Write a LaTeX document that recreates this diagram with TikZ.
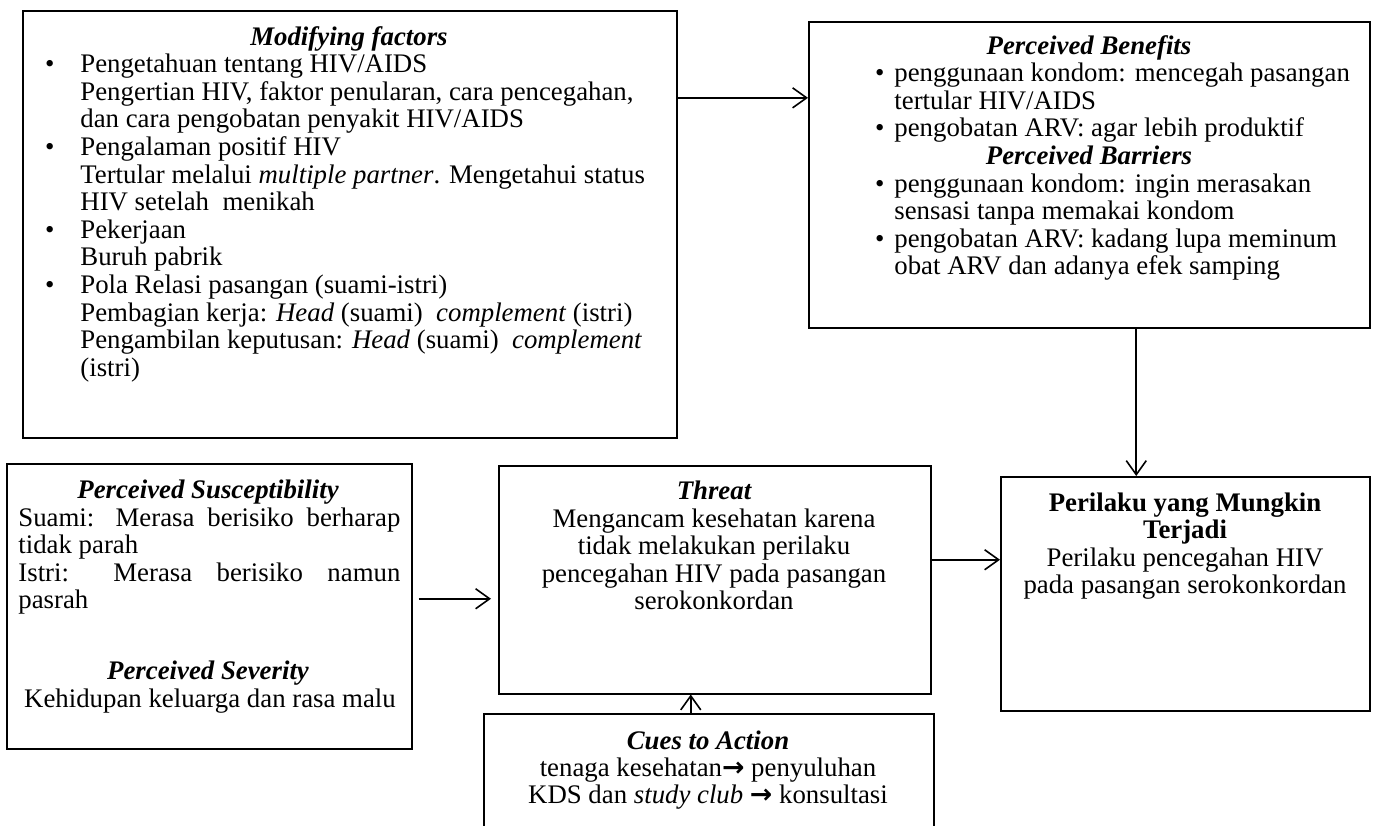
\documentclass[tikz,border=0pt]{standalone}
\usepackage{fontspec}
\setmainfont{Liberation Serif}
\newfontfamily\arrowfont{DejaVu Sans}
\usetikzlibrary{arrows.meta,calc}
\newcommand{\bul}[1]{\llap{\textbullet\hspace{#1}}}
\newcommand{\rarr}{{\arrowfont\bfseries →}}

\begin{document}
\begin{tikzpicture}[x=0.5pt, y=-0.5pt,
    box/.style={draw, line width=0.75pt, inner sep=0pt, anchor=north west},
    txt/.style={inner sep=0pt, font=\fontsize{13.4pt}{13.8pt}\selectfont},
    ttl/.style={txt, anchor=base, font=\fontsize{13.4pt}{13.8pt}\selectfont\bfseries\itshape},
    arr/.style={-{Straight Barb[length=7pt, width=10pt]}, line width=0.8pt}]
    \useasboundingbox (0,0) rectangle (1380,825);

    % Boxes
    \node[box, minimum width=327pt, minimum height=213.5pt] (mod) at (22,10) {};
    \node[box, minimum width=280.5pt, minimum height=153pt] (ben) at (808,21) {};
    \node[box, minimum width=202.5pt, minimum height=142.5pt] (sus) at (6,463) {};
    \node[box, minimum width=216pt, minimum height=114pt] (thr) at (498,465) {};
    \node[box, minimum width=184.5pt, minimum height=117pt] (per) at (1000,476) {};
    \node[box, minimum width=225pt, minimum height=58.5pt] (cue) at (483,713) {};

    % Modifying factors (multi-line texts sit on their last baseline)
    \node[ttl] (modttl) at (349,45) {Modifying factors};
    \node[txt, anchor=base west, align=left] (modtxt) at (80,376.2) {%
        \bul{13pt}Pengetahuan tentang HIV/AIDS\\
        Pengertian HIV, faktor penularan, cara pencegahan,\\
        dan cara pengobatan penyakit HIV/AIDS\\
        \bul{13pt}Pengalaman positif HIV\\
        Tertular melalui \textit{multiple partner}. Mengetahui status\\
        HIV setelah\ \ menikah\\
        \bul{13pt}Pekerjaan\\
        Buruh pabrik\\
        \bul{13pt}Pola Relasi pasangan (suami-istri)\\
        Pembagian kerja: \textit{Head} (suami)\ \ \textit{complement} (istri)\\
        Pengambilan keputusan: \textit{Head} (suami)\ \ \textit{complement}\\
        (istri)};

    % Benefits and barriers
    \node[ttl] (benttl) at (1089,54) {Perceived Benefits};
    \node[txt, anchor=base west, align=left] (bentxt) at (894,136.8) {%
        \bul{5pt}penggunaan kondom: mencegah pasangan\\
        tertular HIV/AIDS\\
        \bul{5pt}pengobatan ARV: agar lebih produktif};
    \node[ttl] (barttl) at (1089,164.4) {Perceived Barriers};
    \node[txt, anchor=base west, align=left] (bartxt) at (894,274.8) {%
        \bul{5pt}penggunaan kondom: ingin merasakan\\
        sensasi tanpa memakai kondom\\
        \bul{5pt}pengobatan ARV: kadang lupa meminum\\
        obat ARV dan adanya efek samping};

    % Susceptibility and severity
    \node[ttl] (susttl) at (208,498) {Perceived Susceptibility};
    \node[txt, anchor=base west, align=left] (sustxt) at (18,608.8) {%
        \makebox[191pt][s]{Suami: Merasa berisiko berharap}\\
        tidak parah\\
        \makebox[191pt][s]{Istri: Merasa berisiko namun}\\
        pasrah};
    \node[ttl] (sevttl) at (208,679) {Perceived Severity};
    \node[txt, anchor=base] (sevtxt) at (210,707) {Kehidupan keluarga dan rasa malu};

    % Threat
    \node[ttl] (thrttl) at (714,499) {Threat};
    \node[txt, anchor=base, align=center] (thrtxt) at (714,609.8) {%
        Mengancam kesehatan karena\\
        tidak melakukan perilaku\\
        pencegahan HIV pada pasangan\\
        serokonkordan};

    % Likely behaviour
    \node[txt, anchor=base, align=center] (pertxt) at (1185,593.8) {%
        \textbf{Perilaku yang Mungkin}\\
        \textbf{Terjadi}\\
        Perilaku pencegahan HIV\\
        pada pasangan serokonkordan};

    % Cues to action
    \node[ttl] (cuettl) at (708,749) {Cues to Action};
    \node[txt, anchor=base, align=center] (cuetxt) at (708,803.6) {%
        tenaga kesehatan\rarr{} penyuluhan\\
        KDS dan \textit{study club} \rarr{} konsultasi};

    % Arrows
    \draw[arr] ($(mod.north east)!0.205!(mod.south east)$) coordinate (a1) -- (a1 -| ben.west);
    \draw[arr] ([xshift=23.5pt]ben.south) coordinate (a2) -- (a2 |- per.north);
    \draw[arr, shorten <=3pt, shorten >=3.5pt] ([yshift=3.75pt]sus.east) coordinate (a3) -- (a3 -| thr.west);
    \draw[arr] ([yshift=10pt]thr.east) coordinate (a4) -- (a4 -| per.west);
    \draw[arr] ([xshift=-9pt]cue.north) coordinate (a5) -- (a5 |- thr.south);

\end{tikzpicture}
\end{document}
